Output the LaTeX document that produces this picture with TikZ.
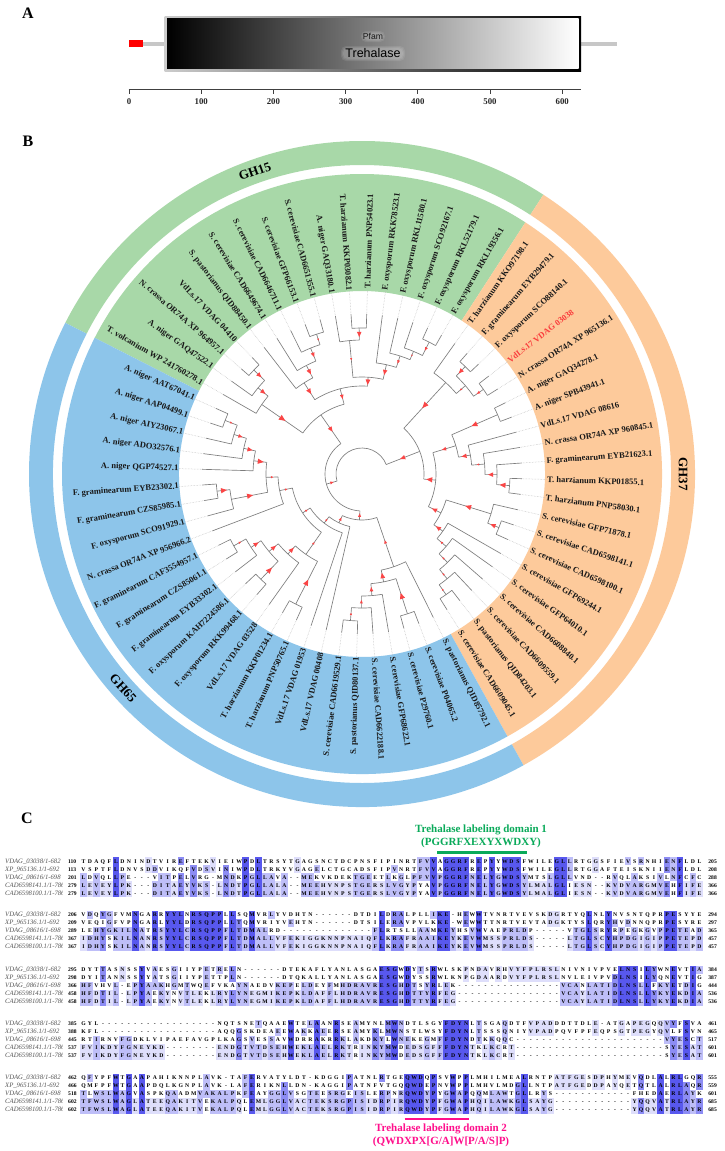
\documentclass[tikz,border=0pt]{standalone}
\usepackage{fontspec}
\setmainfont{Liberation Serif}
\setsansfont{Liberation Sans}
\definecolor{wedgeG}{RGB}{168,216,168}
\definecolor{wedgeO}{RGB}{253,202,155}
\definecolor{wedgeB}{RGB}{141,197,234}
\definecolor{treeline}{RGB}{125,125,125}
\definecolor{leadline}{RGB}{185,185,185}
\definecolor{tritone}{RGB}{250,70,70}
\definecolor{labtone}{RGB}{25,25,25}
\definecolor{redlab}{RGB}{250,60,60}
\definecolor{alnL5}{RGB}{88,88,238}
\definecolor{alnL4}{RGB}{140,140,244}
\definecolor{alnL3}{RGB}{190,190,248}
\definecolor{alnL2}{RGB}{222,222,251}
\definecolor{domgreen}{RGB}{10,170,90}
\definecolor{dompink}{RGB}{255,15,140}
\definecolor{namegray}{RGB}{85,85,85}
\newlength\alnw
\setlength\alnw{6.484pt}
\ExplSyntaxOn
\int_new:N \l_aln_n_int
\int_new:N \l_aln_m_int
\tl_new:N \l_aln_cons_tl
\int_step_inline:nn {5}
 {
  \tl_new:c {l_aln_ch_#1_tl}
  \tl_new:c {g_aln_lev_#1_tl}
  \str_new:c {g_aln_row_#1_str}
  \int_new:c {l_aln_cnt_#1_int}
 }
\cs_new_protected:Npn \aln_col:n #1
 {
  \int_step_inline:nn {5}
   { \tl_set:cx {l_aln_ch_##1_tl} { \exp_args:Nc \str_item:Nn {g_aln_row_##1_str} {#1} } }
  \int_zero:N \l_aln_m_int
  \int_step_inline:nn {5}
   {
    \int_zero:N \l_aln_n_int
    \str_if_eq:eeF { \use:c {l_aln_ch_##1_tl} } { - }
     {
      \int_step_inline:nn {5}
       {
        \str_if_eq:eeT { \use:c {l_aln_ch_##1_tl} } { \use:c {l_aln_ch_####1_tl} }
         { \int_incr:N \l_aln_n_int }
       }
     }
    \int_set_eq:cN {l_aln_cnt_##1_int} \l_aln_n_int
    \int_compare:nNnF \l_aln_n_int < \l_aln_m_int
     {
      \int_set_eq:NN \l_aln_m_int \l_aln_n_int
      \tl_set_eq:Nc \l_aln_cons_tl {l_aln_ch_##1_tl}
     }
   }
  \int_step_inline:nn {5}
   {
    \int_compare:nNnTF \l_aln_m_int > 1
     {
      \str_if_eq:eeTF { \use:c {l_aln_ch_##1_tl} } { \l_aln_cons_tl }
       { \tl_gput_right:cx {g_aln_lev_##1_tl} { \int_use:c {l_aln_cnt_##1_int} } }
       { \tl_gput_right:cn {g_aln_lev_##1_tl} {0} }
     }
     { \tl_gput_right:cn {g_aln_lev_##1_tl} {0} }
   }
 }
\NewDocumentCommand \AlnBlock { m m m m m }
 {
  \str_gset:cn {g_aln_row_1_str} {#1}
  \str_gset:cn {g_aln_row_2_str} {#2}
  \str_gset:cn {g_aln_row_3_str} {#3}
  \str_gset:cn {g_aln_row_4_str} {#4}
  \str_gset:cn {g_aln_row_5_str} {#5}
  \int_step_inline:nn {5} { \tl_gclear:c {g_aln_lev_##1_tl} }
  \int_step_inline:nn {96} { \aln_col:n {##1} }
 }
\cs_new_protected:Npn \aln_cell:nn #1#2
 {
  \int_compare:nNnT {#1} > 0
   { \rlap{\textcolor{alnL#1}{\rule[-2.1pt]{\alnw}{8pt}}} }
  \makebox[\alnw][c]{#2}
 }
\cs_generate_variant:Nn \aln_cell:nn {xx}
\NewDocumentCommand \AlnRow { m }
 {
  \int_step_inline:nn {96}
   {
    \aln_cell:xx
     { \exp_args:Nc \str_item:Nn {g_aln_lev_#1_tl} {##1} }
     { \exp_args:Nc \str_item:Nn {g_aln_row_#1_str} {##1} }
   }
 }
\ExplSyntaxOff
\tikzset{
 branch/.style={draw=treeline,line width=0.65pt},
 leader/.style={draw=leadline,line width=0.5pt,densely dotted},
 redtri/.style={fill=tritone},
 leaflab/.style={inner sep=0pt,font=\bfseries\fontsize{8.5}{9}\selectfont,text=labtone},
 ghlab/.style={inner sep=0pt,font=\bfseries\fontsize{13}{14}\selectfont,text=black},
 panlab/.style={inner sep=0pt,font=\bfseries\fontsize{16}{18}\selectfont},
 ticklab/.style={inner sep=0pt,font=\bfseries\fontsize{8.8}{10}\selectfont,text=black!85},
 alnname/.style={inner sep=0pt,anchor=base west,font=\itshape\fontsize{6.7}{7}\selectfont,text=namegray},
 alnnum/.style={inner sep=0pt,font=\bfseries\fontsize{5.6}{7}\selectfont},
 alnrow/.style={inner sep=0pt,anchor=base west,font=\bfseries\fontsize{5.7}{7}\selectfont},
 domlab/.style={inner sep=0pt,align=center,font=\bfseries\fontsize{11}{12.6}\selectfont},
 glow/.style={white,opacity=.09,rounded corners=5pt},
}
\newcommand\wedgesec[5]{\fill[#1] (#2:#4) arc[start angle=#2,end angle=#3,radius=#4pt] -- (#3:#5) arc[start angle=#3,end angle=#2,radius=#5pt] -- cycle;}
\newcommand\treelink[2]{%
 \edef\tka{\csname ang#1\endcsname}\edef\tkr{\csname rad#1\endcsname}\edef\tks{\csname tri#1\endcsname}%
 \coordinate (b-#1) at (\tka:#2);%
 \draw[branch] (b-#1) -- (n-#1);%
 \pgfmathsetmacro\tkm{(#2+\tkr)/2}%
 \ifdim\tks pt>0pt
  \fill[redtri,rotate=\tka] ({\tkm-\tks},0) -- ({\tkm+\tks*.7},{.75*\tks}) -- ({\tkm+\tks*.7},{-.75*\tks}) -- cycle;%
 \fi}
\newcommand\treenode[5]{%
 \pgfmathsetmacro\tkn{(\csname ang#2\endcsname+\csname ang#3\endcsname)/2}%
 \expandafter\xdef\csname ang#1\endcsname{\tkn}%
 \expandafter\xdef\csname rad#1\endcsname{#4}%
 \expandafter\xdef\csname tri#1\endcsname{#5}%
 \coordinate (n-#1) at (\tkn:#4);%
 \treelink{#2}{#4}\treelink{#3}{#4}%
 \draw[branch] (b-#2) arc[start angle=\csname ang#2\endcsname,end angle=\csname ang#3\endcsname,radius=#4pt];}
\newcommand\alnnm[1]{\ifcase#1\or VDAG\_03038/1-682\or XP\_965136.1/1-692\or VDAG\_08616/1-698\or CAD6598141.1/1-786\or CAD6598100.1/1-786\fi}
\newcommand\alnline[5]{% tag, row, y, start, end
 \begin{scope}
 \clip (0,-#3+6) rectangle (62,-#3-3);
 \node[alnname] (name-#1-#2) at (5,-#3) {\alnnm{#2}};
 \end{scope}
 \node[alnnum,anchor=base west] (start-#1-#2) at (68,-#3) {#4};
 \node[alnrow] (seq-#1-#2) at (80.06,-#3) {\AlnRow{#2}};
 \node[alnnum,anchor=base east] (end-#1-#2) at (717,-#3) {#5};}
\newcommand\alnfive[3]{% tag, centre y of first row, number pairs
 \foreach \st/\en [count=\rw] in {#3}{%
  \pgfmathsetmacro\yl{#2+1.9+8*(\rw-1)}%
  \alnline{#1}{\rw}{\yl}{\st}{\en}}}
\begin{document}
\begin{tikzpicture}[x=1pt,y=1pt]
\useasboundingbox (0,0) rectangle (724,-1151);
\fill[white] (0,0) rectangle (724,-1151);
% ---------- panel A
\node[panlab] (pA) at (28,-13) {A};
\coordinate (gl) at (129,-43.7);\coordinate (gr) at (617,-43.7);
\draw[line width=3.6pt,draw=black!22] (gl) -- (gr);
\node[fill=red,minimum width=14pt,minimum height=7.5pt,inner sep=0pt,anchor=west] (sig) at (129,-43.7) {};
\shade[left color=black!20,right color=black] (164.5,-16) rectangle (581,-71);
\shade[left color=black,right color=white] (167,-18.5) rectangle (578.5,-68.5);
\foreach \gw in {0,1,2}{
 \fill[glow] (361+\gw,-31-\gw) rectangle (385-\gw,-42+\gw);
 \fill[glow] (341+\gw,-46-\gw) rectangle (405-\gw,-61+\gw);
}
\node[inner sep=0pt,font=\sffamily\fontsize{8.6}{9}\selectfont,text=black!90] (pf) at (373,-36.5) {Pfam};
\node[inner sep=0pt,font=\sffamily\fontsize{12.5}{13}\selectfont,text=black] (trh) at (373,-53.5) {Trehalase};
\draw[line width=1.6pt,draw=black!75] (128.5,-89.5) -- (581,-89.5);
\foreach \tv/\tx in {0/129,100/201.2,200/273.4,300/345.6,400/417.8,500/490,600/562.2}{
 \draw[line width=0.9pt,draw=black!75] (\tx,-89.5) -- (\tx,-93.5);
 \node[ticklab] (tk\tv) at (\tx,-102) {\tv};
}
% ---------- panel B
\node[panlab] (pB) at (28,-141) {B};
\begin{scope}[shift={(362,-474)}]
\wedgesec{wedgeG}{153}{57}{333}{309}
\wedgesec{wedgeO}{57}{-61}{333}{309}
\wedgesec{wedgeB}{-61}{-207}{333}{309}
\wedgesec{wedgeG}{153}{57}{300}{183}
\wedgesec{wedgeO}{57}{-61}{300}{183}
\wedgesec{wedgeB}{-61}{-207}{300}{183}
\node[ghlab,rotate=19.5] (gh15) at (109.5:321) {GH15};
\node[ghlab,rotate=-90] (gh37) at (0:321) {GH37};
\node[ghlab,rotate=-48] (gh65) at (221.9:321) {GH65};
\foreach \ix/\lbl in {
0/T. volcanium WP 241760278.1,1/A. niger GAQ47522.1,2/N. crassa OR74A XP 964957.1,3/VdLs.17 VDAG 04410,
4/S. pastorianus QID88450.1,5/S. cerevisiae CAD6649674.1,6/S. cerevisiae CAD6646711.1,7/S. cerevisiae GFP66153.1,
8/S. cerevisiae CAD6651355.1,9/A. niger GAQ33180.1,10/T. harzianum KKP03082.1,11/T. harzianum PNP54023.1,
12/F. oxysporum RKK78523.1,13/F. oxysporum RKL11580.1,14/F. oxysporum SCO92167.1,15/F. oxysporum RKL52179.1,
16/F. oxysporum RKL19356.1,17/T. harzianum KKO97198.1,18/F. graminearum EYB29479.1,19/F. oxysporum SCO88140.1,
20/VdLs.17 VDAG 03038,21/N. crassa OR74A XP 965136.1,22/A. niger GAQ34278.1,23/A. niger SPB43941.1,
24/VdLs.17 VDAG 08616,25/N. crassa OR74A XP 960845.1,26/F. graminearum EYB21623.1,27/T. harzianum KKP01855.1,
28/T. harzianum PNP58030.1,29/S. cerevisiae GFP71878.1,30/S. cerevisiae CAD6598141.1,31/S. cerevisiae CAD6598100.1,
32/S. cerevisiae GFP69244.1,33/S. cerevisiae GFP64010.1,34/S. cerevisiae CAD6608840.1,35/S. cerevisiae CAD6609559.1,
36/S. pastorianus QID84203.1,37/S. cerevisiae CAD6609045.1,38/S. pastorianus QID85792.1,39/S. cerevisiae P04065.2,
40/S. cerevisiae P29760.1,41/S. cerevisiae GFP68622.1,42/S. cerevisiae CAD6622188.1,43/S. pastorianus QID80137.1,
44/S. cerevisiae CAD6619529.1,45/VdLs.17 VDAG 00408,46/VdLs.17 VDAG 01953,47/T. harzianum PNP50765.1,
48/T. harzianum KKP01234.1,49/VdLs.17 VDAG 03528,50/F. oxysporum RKK99468.1,51/F. oxysporum KAH7224586.1,
52/F. graminearum EYB33302.1,53/F. graminearum CZS85061.1,54/F. graminearum CAF3554957.1,55/N. crassa OR74A XP 956966.2,
56/F. oxysporum SCO91929.1,57/F. graminearum CZS85985.1,58/F. graminearum EYB23302.1,59/A. niger QGP74527.1,
60/A. niger ADO32576.1,61/A. niger AIY23067.1,62/A. niger AAP04499.1,63/A. niger AAT67041.1}{
 \pgfmathsetmacro\angv{153-(\ix+.5)*5.625+(\ix>37 ? 360 : 0)}
 \expandafter\xdef\csname angL\ix\endcsname{\angv}
 \expandafter\xdef\csname radL\ix\endcsname{160}
 \expandafter\xdef\csname triL\ix\endcsname{0}
 \coordinate (n-L\ix) at (\angv:160);
 \pgfmathtruncatemacro\isleft{(\angv>90 && \angv<270) ? 1 : 0}
 \pgfmathtruncatemacro\isred{\ix==20 ? 1 : 0}
 \ifnum\isleft=1
  \pgfmathsetmacro\rotv{\angv+180}
  \node[leaflab,anchor=east,rotate=\rotv] (lab-\ix) at (\angv:183.5) {\lbl};
 \else
  \ifnum\isred=1
   \node[leaflab,anchor=west,rotate=\angv,text=redlab] (lab-\ix) at (\angv:185) {\lbl};
  \else
   \node[leaflab,anchor=west,rotate=\angv] (lab-\ix) at (\angv:185) {\lbl};
  \fi
 \fi
 \draw[leader] (n-L\ix) -- (lab-\ix);
}
% green
\treenode{g23}{L2}{L3}{150}{3}
\treenode{g123}{L1}{g23}{135}{3}
\treenode{g0123}{L0}{g123}{122}{3.8}
\treenode{g78}{L7}{L8}{147}{1.2}
\treenode{g678}{L6}{g78}{136}{2.6}
\treenode{g5}{L5}{g678}{122}{3}
\treenode{g4}{L4}{g5}{108}{3.2}
\treenode{g1011}{L10}{L11}{146}{3}
\treenode{g9}{L9}{g1011}{134}{1.4}
\treenode{g1516}{L15}{L16}{148}{2}
\treenode{g14}{L14}{g1516}{133}{1.2}
\treenode{g13}{L13}{g14}{124}{2}
\treenode{g12}{L12}{g13}{112}{3}
\treenode{g916}{g9}{g12}{97}{3.2}
\treenode{g49}{g4}{g916}{88}{2.5}
\treenode{G}{g0123}{g49}{72}{3}
% orange
\treenode{o1819}{L18}{L19}{149}{3}
\treenode{o2021}{L20}{L21}{148}{2}
\treenode{o1821}{o1819}{o2021}{136}{1.4}
\treenode{o1721}{L17}{o1821}{124}{3.6}
\treenode{o2223}{L22}{L23}{148}{3.5}
\treenode{o2728}{L27}{L28}{148}{3.5}
\treenode{o26}{L26}{o2728}{135}{3}
\treenode{o25}{L25}{o26}{123}{1.4}
\treenode{o24}{L24}{o25}{110}{3}
\treenode{o2228}{o2223}{o24}{98}{2.5}
\treenode{o3031}{L30}{L31}{147}{3}
\treenode{o2931}{L29}{o3031}{135}{3.5}
\treenode{o3637}{L36}{L37}{147}{1.2}
\treenode{o35}{L35}{o3637}{135}{1.4}
\treenode{o34}{L34}{o35}{123}{1.4}
\treenode{o33}{L33}{o34}{111}{1.6}
\treenode{o32}{L32}{o33}{99}{3}
\treenode{oY2}{o2931}{o32}{88}{3}
\treenode{oY}{o2228}{oY2}{74}{3.5}
\treenode{X}{o1721}{oY}{62}{3}
% blue
\treenode{b6263}{L62}{L63}{147}{1.5}
\treenode{b61}{L61}{b6263}{134}{2.5}
\treenode{b60}{L60}{b61}{121}{3}
\treenode{b59}{L59}{b60}{109}{3.5}
\treenode{b5758}{L57}{L58}{146}{3.5}
\treenode{b56}{L56}{b5758}{133}{3.5}
\treenode{b5663}{b59}{b56}{96}{1.5}
\treenode{b55}{L55}{b5663}{84}{1.5}
\treenode{b5354}{L53}{L54}{147}{1.5}
\treenode{b52}{L52}{b5354}{133}{3}
\treenode{b5051}{L50}{L51}{146}{3.5}
\treenode{b5054}{b52}{b5051}{121}{3}
\treenode{b49}{L49}{b5054}{109}{3}
\treenode{b4748}{L47}{L48}{146}{3.5}
\treenode{b98}{b49}{b4748}{98}{1.5}
\treenode{BB}{b55}{b98}{71}{1.5}
\treenode{CC}{BB}{L46}{62}{1.5}
\treenode{DD}{CC}{L45}{54}{2}
\treenode{c4344}{L43}{L44}{147}{1.5}
\treenode{c42}{L42}{c4344}{134}{2}
\treenode{c41}{L41}{c42}{122}{2.5}
\treenode{c3940}{L39}{L40}{147}{3.5}
\treenode{c110}{c41}{c3940}{110}{3.2}
\treenode{c98}{L38}{c110}{98}{2}
\treenode{EE}{DD}{c98}{46}{2}
\treenode{WW}{G}{EE}{37}{2}
\treenode{RR}{X}{WW}{26}{0}
\end{scope}
% ---------- panel C
\node[panlab] (pC) at (27,-818) {C};
\node[domlab,text=domgreen] (dom1) at (481,-836.5) {Trehalase labeling domain 1\\(PGGRFXEXYXWDXY)};
\coordinate (d1a) at (437,-852);\coordinate (d1b) at (527,-852);
\draw[draw=domgreen,line width=3pt] (d1a) -- (d1b);
\AlnBlock
{TDAQFLDNINDTVIREFTEKVIEIWPDLTRSYTGAGSNCTDCPNSFIPINRTFVVAGGRFREPYYWDSFWILEGLLRTGGSFIEVSRNHIENFLDL}
{VSPTFLDNVSDDVIKQFVDSVINIWPDLTRKYVGAGELCTGCADSFIPVNRTFVVAGGRFREPYYWDSFWILEGLLRTGGAFTEISKNIIENFLDL}
{LDVQLLPE---VITPELVRG-MNDKPGLLAVA--MEKVKDEKTGEETLKGLPFVVPGGRFNELYGWDSYMTSLGLLVND--RVQLAKSIVLNFCFC}
{LEVEYLPK---DITAEYVKS-LNDTPGLLALA--MEEHVNPSTGERSLVGYPYAVPGGRFNELYGWDSYLMALGLIESN--KVDVARGMVEHFIFE}
{LEVEYLPK---DITAEYVKS-LNDTPGLLALA--MEEHVNPSTGERSLVGYPYAVPGGRFNELYGWDSYLMALGLIESN--KVDVARGMVEHFIFE}
\alnfive{a}{861.3}{110/205,113/208,201/288,279/366,279/366}
\AlnBlock
{VDQYGFVMNGARRYYLNRSQPPLLSQMVRLYVDHTN------DTDILDRALPLLIKE-HEWWTVNRTVEVSKDGRTYQLNLYNVSNTQPRPESYYE}
{VEQIGFVPNGARLYYLDRSQPPLLTQMVRIYVEHTN------DTSILERAVPVLKKE-WEWWTTNRTVEVTADGKTYSLQRYHVDNNQPRPESYRE}
{LEHYGKILNATRSYYLCRSQPPFLTDMALRD--------------FLRTSLLAAMKEYHSVWVAEPRLDP-----VTGLSRYRPEGKGVPPETEAD}
{IDHYSKILNANRSYYLCRSQPPFLTDMALLVFEKIGGKNNPNAIQFLKRAFRAAIKEYKEVWMSSPRLDS-----LTGLSCYHPDGIGIPPETEPD}
{IDHYSKILNANRSYYLCRSQPPFLTDMALLVFEKIGGKNNPNAIQFLKRAFRAAIKEYKEVWMSSPRLDS-----LTGLSCYHPDGIGIPPETEPD}
\alnfive{b}{914.7}{206/294,209/297,289/365,367/457,367/457}
\AlnBlock
{DYTTASNSSYVAESGIIYPETRELN------DTEKAFLYANLASGAESGWDYTSRWLSKPNDAVRHVYFPLRSLNIVNIVPVELNSILYWNEVTIA}
{DYITANNSSYYATSGIIYPETTPLN------DTQKALLYANLASGAESGWDYSSRWLKNPGDAARDVYFPLRSLNVLEIVPVDLNSILYQNEVTIG}
{HFVHVL-EPYAAKHGMTWQEFVKAYNAEDVKEPELDEYFMHDRAVRESGHDTSYRLEK----------------VCANLATIDLNSLLFKYETDIG}
{HFDTIL-LPYAEKYNVTLEKLRYLYNEGMIKEPKLDAFFLHDRAVRESGHDTTYRFEG----------------VCAYLATIDLNSLLYKYEKDIA}
{HFDTIL-LPYAEKYNVTLEKLRYLYNEGMIKEPKLDAFFLHDRAVRESGHDTTYRFEG----------------VCAYLATIDLNSLLYKYEKDIA}
\alnfive{c}{970}{295/384,298/387,366/444,458/536,458/536}
\AlnBlock
{GYL------------------NQTSNETQAAEWTELAANRSEAMYNLMWNDTLSGYFDYNLTSGAQDTFVPADDDTTDLE-ATGAPEGQQVYFSVA}
{KFL------------------AQQGSKDEAEEWAKKAEERSEAMYKLMWNSTLWSYFDYNLTSSSQNIYVPADPQVFPFEQPSGTPEGYQVLFSVN}
{RTIRNVFGDKLVIPAEFAVGPLKAGSVESSAVWDRRAKRRKLAKDKYLWNEKEGMFFDYNDTKKQQC-----------------------VYESCT}
{FVIKDYFGNEYKD--------ENDGTVTDSEHWEKLAELRKTRINKYMWDEDSGFFFDYNTKLKCRT-----------------------SYESAT}
{FVIKDYFGNEYKD--------ENDGTVTDSEHWEKLAELRKTRINKYMWDEDSGFFFDYNTKLKCRT-----------------------SYESAT}
\alnfive{d}{1024}{385/461,388/465,445/517,537/601,537/601}
\AlnBlock
{QFYPFWTGAAPAHIKNNPLAVK-TAFERVATYLDT-KDGGIPATNLRTGEQWDQPSVWPPLMHILMEALRNTPATFGESDPHYMEVQDLALRLGQR}
{QMFPFWTGAAPDQLKGNPLAVK-LAFERIKNLLDN-KAGGIPATNFVTGQQWDEPNVWPPLMHVLMDGLLNTPATFGEDDPAYQETQTLALRLAQR}
{TLWSLWAGVASPKQAADMVAKALPKFEAYGGLVSGTEESRGEISLERPNRQWDYPYGWAPQQMLAWTGLLRYS------------FHEDAERLAYK}
{TFWSLWAGLATEEQAKITVEKALPQLEMLGGLVACTEKSRGPISIDRPIRQWDYPFGWAPHQILAWKGLSAYG------------YQQVATRLAYR}
{TFWSLWAGLATEEQAKITVEKALPQLEMLGGLVACTEKSRGPISIDRPIRQWDYPFGWAPHQILAWKGLSAYG------------YQQVATRLAYR}
\alnfive{e}{1078}{462/555,466/559,518/601,602/685,602/685}
\coordinate (d2a) at (404.7,-1119);\coordinate (d2b) at (469,-1119);
\draw[draw=dompink,line width=2.6pt] (d2a) -- (d2b);
\node[domlab,text=dompink] (dom2) at (441,-1135.5) {Trehalase labeling domain 2\\(QWDXPX[G/A]W[P/A/S]P)};
\end{tikzpicture}
\end{document}
